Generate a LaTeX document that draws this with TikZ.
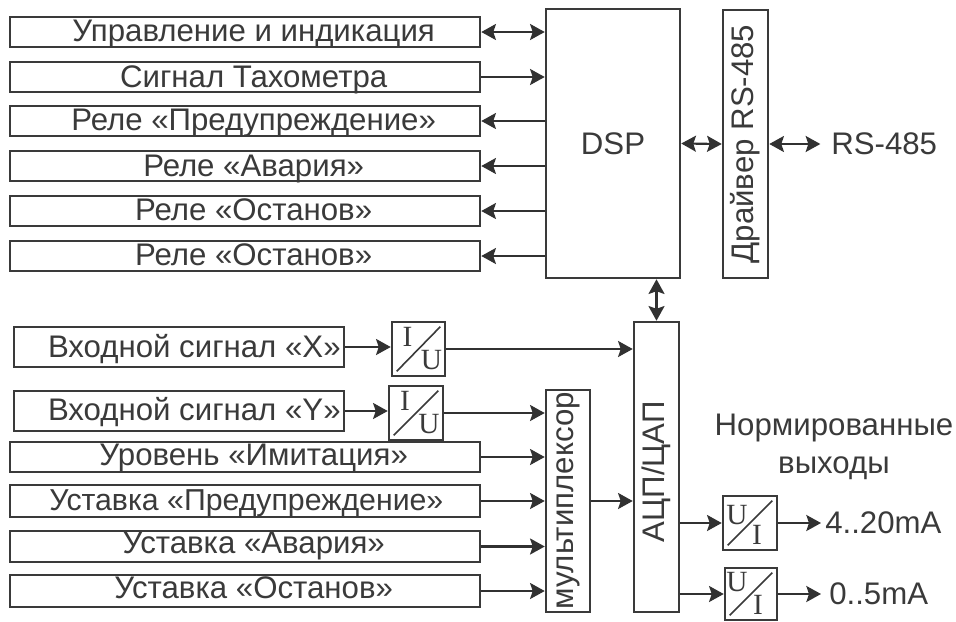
\documentclass[tikz,border=0pt]{standalone}
\usepackage{fontspec}
\setmainfont{Liberation Sans}
\newfontfamily\serifpart{Liberation Serif}
\usetikzlibrary{arrows.meta,calc}
\definecolor{ink}{HTML}{3A3A3A}
\tikzset{
  x=0.75pt,y=-0.75pt,
  blk/.style={draw=ink,line width=1.9pt,fill=white,inner sep=0pt,text=ink,font=\fontsize{23.4}{27}\selectfont},
  lbl/.style={inner sep=0pt,text=ink,font=\fontsize{23.4}{27}\selectfont},
  ser/.style={inner sep=0pt,text=ink,font=\serifpart\fontsize{22}{25}\selectfont},
  wire/.style={draw=ink!85!black,line width=1.6pt},
  to/.style={wire,-{Stealth[length=11pt,width=12pt,inset=2pt]}},
  both/.style={wire,{Stealth[length=11pt,width=12pt,inset=2pt]}-{Stealth[length=11pt,width=12pt,inset=2pt]}},
}
% x0, y0, x1, y1, name, text
\newcommand{\bx}[7][]{\node[blk,minimum width={(#4-#2)*0.75pt},minimum height={(#5-#3)*0.75pt},#1] (#6) at ({(#2+#4)/2},{(#3+#5)/2}) {#7};}
\newcommand{\rowtxt}[3][13pt]{\raisebox{#2}[15pt][0pt]{\hspace*{#1}#3}}
\newcommand{\conv}[9]{%
  \node[blk,minimum width={(#4-#2)*0.75pt},minimum height={(#5-#3)*0.75pt}] (#1) at ({(#2+#4)/2},{(#3+#5)/2}) {};
  \draw[ink,line width=1.2pt] ($(#1.south west)+(6,-6)$) -- ($(#1.north east)+(-6,6)$);
  \node[ser] (#1a) at ($(#1.center)+#8$) {#6};
  \node[ser] (#1b) at ($(#1.center)+#9$) {#7};
}
\begin{document}
\begin{tikzpicture}
\useasboundingbox (0,0) rectangle (956,621);
\bx{10}{17}{480}{47}{r1}{\rowtxt{0.7pt}{Управление и индикация}}
\bx{10}{62}{480}{92}{r2}{\rowtxt{0pt}{Сигнал Тахометра}}
\bx{10}{106}{480}{136}{r3}{\rowtxt{0.7pt}{Реле «Предупреждение»}}
\bx{10}{151}{480}{181}{r4}{\rowtxt{0pt}{Реле «Авария»}}
\bx{10}{196}{480}{226}{r5}{\rowtxt{0.7pt}{Реле «Останов»}}
\bx{10}{241}{480}{271}{r6}{\rowtxt{0.7pt}{Реле «Останов»}}
\bx{546}{9}{680}{278}{dsp}{DSP}
\bx{723}{10}{768}{278}{drv}{\rotatebox{90}{Драйвер RS-485}}
\bx{14}{327}{344}{367}{inx}{\rowtxt[23pt]{0pt}{Входной сигнал «X»}}
\bx{14}{391}{344}{431}{iny}{\rowtxt[23pt]{0.7pt}{Входной сигнал «Y»}}
\bx{10}{442}{480}{472}{lev}{\rowtxt{1.5pt}{Уровень «Имитация»}}
\bx{10}{485}{480}{517}{sp}{\rowtxt[2pt]{0.7pt}{\fontsize{22.7}{27}\selectfont Уставка «Предупреждение»}}
\bx{10}{531}{480}{562}{sa}{\rowtxt{2.2pt}{Уставка «Авария»}}
\bx{10}{575}{480}{607}{so}{\rowtxt{2.2pt}{Уставка «Останов»}}
\bx{546}{390}{590}{612}{mux}{\rotatebox{90}{мультиплексор}}
\bx{634}{322}{679}{612}{adc}{\rotatebox{90}{\hspace*{-7pt}АЦП/ЦАП}}
\conv{iu1}{392}{322}{445}{376}{I}{U}{(-11,-12)}{(13,11)}
\conv{iu2}{389}{386}{443}{440}{I}{U}{(-11,-12)}{(13,11)}
\conv{ui1}{723}{496}{777}{550}{U}{I}{(-13,-8)}{(7,12)}
\conv{ui2}{725}{568}{777}{620}{U}{I}{(-14,-12)}{(7,11)}
\node[lbl,anchor=west] (rs) at (831,144) {RS-485};
\node[lbl,align=center] (norm) at (834,447) {Нормированные\\[2pt]выходы};
\node[lbl,anchor=west] (o1) at (825,523) {4..20mA};
\node[lbl,anchor=west] (o2) at (829,594) {0..5mA};
% connectors
\path (r1.east -| dsp.west) coordinate (d1) (r2.east -| dsp.west) coordinate (d2)
      (r3.east -| dsp.west) coordinate (d3) (r4.east -| dsp.west) coordinate (d4)
      (r5.east -| dsp.west) coordinate (d5) (r6.east -| dsp.west) coordinate (d6);
\draw[both] (r1.east) -- (d1);
\draw[to] (r2.east) -- (d2);
\draw[to] (d3) -- (r3.east);
\draw[to] (d4) -- (r4.east);
\draw[to] (d5) -- (r5.east);
\draw[to] (d6) -- (r6.east);
\draw[both] (dsp.east) -- (drv.west);
\draw[both,shorten >=8pt] (drv.east) -- (rs.west);
\draw[both] (dsp.south -| adc.north) -- (adc.north);
\draw[to] (inx.east) -- (inx.east -| iu1.west);
\draw[to] (iny.east) -- (iny.east -| iu2.west);
\draw[to] (iu1.east) -- (iu1.east -| adc.west);
\draw[to] (iu2.east) -- (iu2.east -| mux.west);
\draw[to] (lev.east) -- (lev.east -| mux.west);
\draw[to] (sp.east) -- (sp.east -| mux.west);
\draw[to] (sa.east) -- (sa.east -| mux.west);
\draw[to] (so.east) -- (so.east -| mux.west);
\draw[to] (sp.east -| mux.east) -- (sp.east -| adc.west);
\draw[to] (ui1.west -| adc.east) -- (ui1.west);
\draw[to] (adc.east |- ui2.west) -- (ui2.west);
\draw[to,shorten >=3pt] (ui1.east) -- (o1.west);
\draw[to,shorten >=6pt] (ui2.east) -- (ui2.east -| o2.west);
\end{tikzpicture}
\end{document}
